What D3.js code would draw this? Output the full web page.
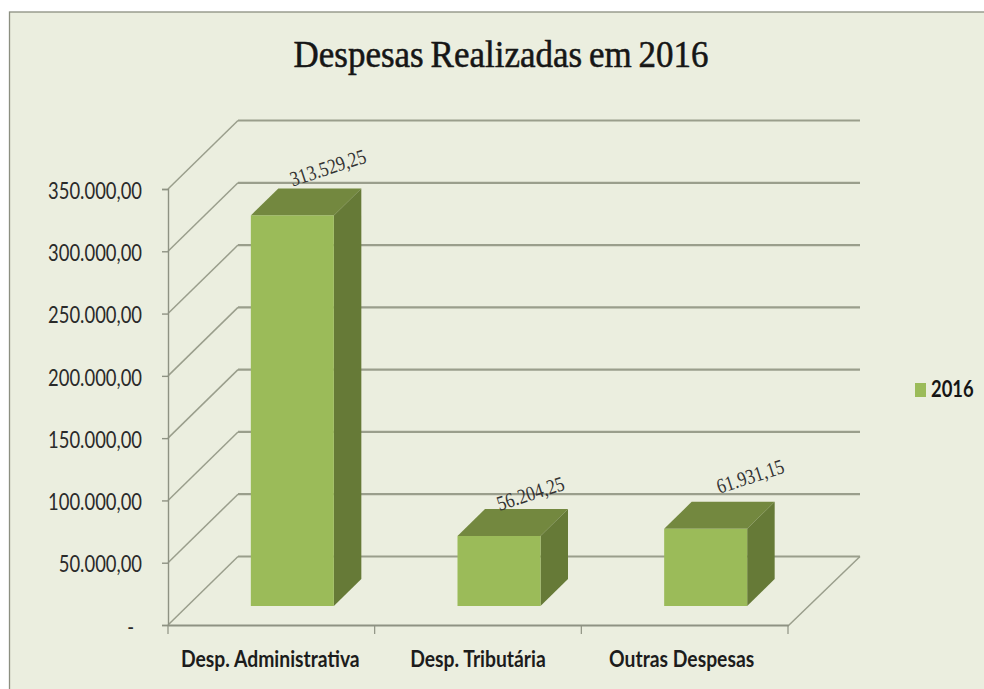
<!DOCTYPE html>
<html><head><meta charset="utf-8">
<script src="https://cdnjs.cloudflare.com/ajax/libs/d3/7.8.5/d3.min.js"></script>
<style>html,body{margin:0;background:#fff}svg{display:block}</style></head>
<body><div id="chart"></div>
<script>
const categories = ["Desp. Administrativa", "Desp. Tributária", "Outras Despesas"];
const values = [313529.25, 56204.25, 61931.15];
const valueLabels = ["313.529,25", "56.204,25", "61.931,15"];
const yTicks = [0, 50000, 100000, 150000, 200000, 250000, 300000, 350000];
const seriesName = "2016";
const titleText = "Despesas Realizadas em 2016";

const W = 984, H = 689;
const svg = d3.select("#chart").append("svg").attr("width", W).attr("height", H);
const pt = d3.formatLocale({decimal: ",", thousands: ".", grouping: [3], currency: ["R$", ""]});
const fmt = pt.format(",.2f");

const x = d3.scaleBand().domain(categories).range([168, 788]);
const y = d3.scaleLinear().domain([0, 350000]).range([625, 189]);
const wall = {dx: 70, dy: -68.5};
const bar = {w: 83, offX: 21, offY: -19, dx: 27.5, dy: -27};
const labelNudge = [[42, -2], [42, 2], [55, -8]];
const axisCol = "#8e9283", gridCol = "#9a9e8c";

svg.append("rect").attr("x", 9.5).attr("y", 12).attr("width", W).attr("height", H)
  .attr("fill", "#ebeedf").attr("stroke", "#8c8f80").attr("stroke-width", 1.3);

svg.append("text").attr("x", 501).attr("y", 67).attr("text-anchor", "middle")
  .attr("font-family", "Liberation Serif").attr("font-size", 37).attr("fill", "#161616")
  .attr("stroke", "#161616").attr("stroke-width", 0.55).attr("word-spacing", -2)
  .attr("textLength", 415).attr("lengthAdjust", "spacingAndGlyphs").text(titleText);

// walls: back gridlines, side diagonals
const grid = svg.append("g");
grid.selectAll("line.back").data(yTicks).join("line").attr("class", "back")
  .attr("x1", 168 + wall.dx).attr("x2", 168 + 620 + wall.dx + 2)
  .attr("y1", d => y(d) + wall.dy).attr("y2", d => y(d) + wall.dy)
  .attr("stroke", gridCol).attr("stroke-width", 2.2);
grid.selectAll("line.side").data(yTicks).join("line").attr("class", "side")
  .attr("x1", 168).attr("x2", 168 + wall.dx)
  .attr("y1", d => y(d)).attr("y2", d => y(d) + wall.dy)
  .attr("stroke", gridCol).attr("stroke-width", 1.5);
grid.append("line").attr("x1", 788).attr("x2", 788 + wall.dx + 2)
  .attr("y1", y(0) + 1).attr("y2", y(0) + wall.dy)
  .attr("stroke", gridCol).attr("stroke-width", 1.5);

// axes
function condense(sel, f) {
  sel.each(function () {
    this.setAttribute("textLength", this.getComputedTextLength() * f);
    this.setAttribute("lengthAdjust", "spacingAndGlyphs");
  });
}
const yAxis = svg.append("g").attr("transform", "translate(168,0)")
  .call(d3.axisLeft(y).tickValues(yTicks).tickSize(6).tickPadding(5)
    .tickFormat(d => d === 0 ? "-" : fmt(d)));
yAxis.selectAll("path,line").attr("stroke", axisCol).attr("stroke-width", 1.4);
yAxis.selectAll("text").attr("font-family", "Lato").attr("font-size", 23)
  .attr("fill", "#2a2a2a").attr("dx", d => d === 0 ? "-23" : "-15").attr("dy", "0.4em").call(condense, 0.8);

const xAxis = svg.append("g").attr("transform", "translate(0,625)")
  .call(d3.axisBottom(x).tickValues([]).tickSize(0));
xAxis.select("path").attr("stroke", axisCol).attr("stroke-width", 1.8);
const xTickPos = [0, 1, 2, 3].map(i => x.range()[0] + i * x.step());
xAxis.selectAll("line.t").data(xTickPos).join("line").attr("class", "t")
  .attr("x1", d => d).attr("x2", d => d).attr("y1", 0).attr("y2", 9)
  .attr("stroke", axisCol).attr("stroke-width", 1.2);
svg.append("g").selectAll("text").data(categories).join("text")
  .attr("x", d => x(d) + x.bandwidth() / 2 - (d === categories[0] ? 1 : d === categories[1] ? 0 : 3))
  .attr("y", 667).attr("text-anchor", "middle")
  .attr("font-family", "Lato").attr("font-weight", 700).attr("font-size", 23)
  .attr("fill", "#1c1c1c").text(d => d).call(condense, 0.84);

// 3D bars
const data = categories.map((c, i) => ({c, v: values[i], label: valueLabels[i], i}));
const gBars = svg.append("g").selectAll("g").data(data).join("g");
const x0 = d => x(d.c) + x.bandwidth() / 2 + bar.offX - bar.w / 2, x1 = d => x0(d) + bar.w;
const yB = y(0) + bar.offY, yT = d => y(d.v) + bar.offY;
gBars.append("path").attr("fill", "#73883f").attr("d", d =>
  `M${x0(d)},${yT(d)}L${x0(d) + bar.dx},${yT(d) + bar.dy}L${x1(d) + bar.dx},${yT(d) + bar.dy}L${x1(d)},${yT(d)}Z`);
gBars.append("path").attr("fill", "#667a37").attr("d", d =>
  `M${x1(d)},${yT(d)}L${x1(d) + bar.dx},${yT(d) + bar.dy}L${x1(d) + bar.dx},${yB + bar.dy}L${x1(d)},${yB}Z`);
gBars.append("rect").attr("x", x0).attr("y", yT).attr("width", bar.w)
  .attr("height", d => yB - yT(d)).attr("fill", "#9bbb59");

// rotated value labels
gBars.append("text")
  .attr("transform", d => `translate(${x0(d) + labelNudge[d.i][0]},${yT(d) + bar.dy + labelNudge[d.i][1]}) rotate(-18)`)
  .attr("font-family", "Liberation Serif").attr("font-size", 21).attr("fill", "#333")
  .attr("text-anchor", "start").text(d => d.label).call(condense, 0.83);

// legend
svg.append("rect").attr("x", 915).attr("y", 383).attr("width", 11).attr("height", 14).attr("fill", "#9bbb59");
svg.append("text").attr("x", 931).attr("y", 397).attr("font-family", "Lato").attr("font-weight", 700)
  .attr("font-size", 23).attr("fill", "#151515").text(seriesName).call(condense, 0.8);
</script></body></html>
